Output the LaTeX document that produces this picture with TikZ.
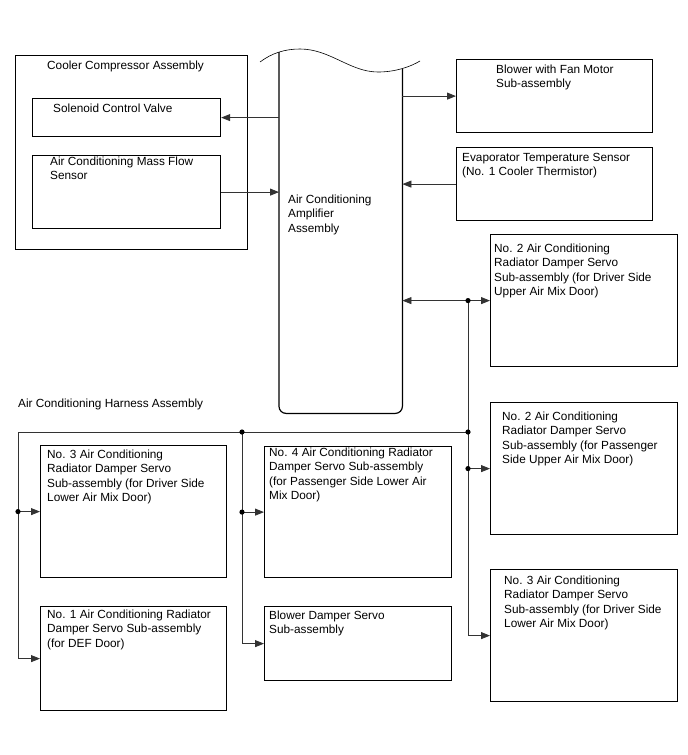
\documentclass[tikz,border=0pt]{standalone}
\usepackage{fontspec}
\setmainfont{Liberation Sans}
\usetikzlibrary{arrows.meta}

\begin{document}
\begin{tikzpicture}[x=1pt, y=-1pt,
    box/.style={draw, line width=1.2pt, anchor=north west, inner sep=0pt},
    txt/.style={anchor=north west, align=left, inner sep=0pt, font=\fontsize{11.8}{14.2}\selectfont},
    conn/.style={draw=black!80, line width=0.8pt},
    arr/.style={conn, -{Triangle[length=9pt,width=7pt]}},
    dotfill/.style={fill=black}
]
    \useasboundingbox (0,0) rectangle (688,755);

    % Cooler compressor assembly
    \node[box, minimum width=232pt, minimum height=194pt] (cooler) at (15,55) {};
    \node[txt] (coolertxt) at (47,61) {Cooler Compressor Assembly};
    \node[box, minimum width=188pt, minimum height=38pt] (solenoid) at (32,98) {};
    \node[txt] (solenoidtxt) at (53,104) {Solenoid Control Valve};
    \node[box, minimum width=188pt, minimum height=73pt] (massflow) at (32,155) {};
    \node[txt] (massflowtxt) at (50,157) {Air Conditioning Mass Flow\\Sensor};

    % Amplifier (cut-off top)
    \node[minimum width=123pt, minimum height=361pt, anchor=north west, inner sep=0pt] (amp) at (279,52) {};
    \draw[line width=1.2pt, rounded corners=7pt] (amp.north west) -- (amp.south west) -- (amp.south east) -- (amp.east |- 0,69);
    \draw[line width=0.6pt] (260,62) .. controls (272,53) and (285,49) .. (300,49)
        .. controls (330,49) and (350,72) .. (378,72)
        .. controls (395,72) and (410,67) .. (420,61);
    \node[txt] (amptxt) at (288,195) {Air Conditioning\\Amplifier\\Assembly};

    % Right column
    \node[box, minimum width=196pt, minimum height=73pt] (blower) at (456,59) {};
    \node[txt] (blowertxt) at (496,65) {Blower with Fan Motor\\Sub-assembly};
    \node[box, minimum width=196pt, minimum height=73pt] (evap) at (456,147) {};
    \node[txt] (evaptxt) at (462,153) {Evaporator Temperature Sensor\\(No. 1 Cooler Thermistor)};
    \node[box, minimum width=187pt, minimum height=132pt] (upperdrv) at (490,234) {};
    \node[txt] (upperdrvtxt) at (494,244) {No. 2 Air Conditioning\\Radiator Damper Servo\\Sub-assembly (for Driver Side\\Upper Air Mix Door)};
    \node[box, minimum width=187pt, minimum height=132pt] (upperpas) at (490,402) {};
    \node[txt] (upperpastxt) at (502,412) {No. 2 Air Conditioning\\Radiator Damper Servo\\Sub-assembly (for Passenger\\Side Upper Air Mix Door)};
    \node[box, minimum width=187pt, minimum height=132pt] (lowerdrvR) at (490,569) {};
    \node[txt] (lowerdrvRtxt) at (504,576) {No. 3 Air Conditioning\\Radiator Damper Servo\\Sub-assembly (for Driver Side\\Lower Air Mix Door)};

    % Harness side
    \node[txt] (harness) at (18,399) {Air Conditioning Harness Assembly};
    \node[box, minimum width=186pt, minimum height=132pt] (lowerdrvL) at (40,445) {};
    \node[txt] (lowerdrvLtxt) at (47,450) {No. 3 Air Conditioning\\Radiator Damper Servo\\Sub-assembly (for Driver Side\\Lower Air Mix Door)};
    \node[box, minimum width=187pt, minimum height=131pt] (lowerpas) at (264,446) {};
    \node[txt] (lowerpastxt) at (269,448) {No. 4 Air Conditioning Radiator\\Damper Servo Sub-assembly\\(for Passenger Side Lower Air\\Mix Door)};
    \node[box, minimum width=186pt, minimum height=104pt] (defdoor) at (40,606) {};
    \node[txt] (defdoortxt) at (47,610) {No. 1 Air Conditioning Radiator\\Damper Servo Sub-assembly\\(for DEF Door)};
    \node[box, minimum width=187pt, minimum height=74pt] (blowerdmp) at (264,606) {};
    \node[txt] (blowerdmptxt) at (269,611) {Blower Damper Servo\\Sub-assembly};

    % Amplifier connections
    \draw[arr] (solenoid.east -| amp.west) -- (solenoid.east);
    \draw[arr] (massflow.east) -- (massflow.east -| amp.west);
    \draw[arr] (blower.west -| amp.east) -- (blower.west);
    \draw[arr] (evap.west) -- (evap.west -| amp.east);
    \draw[conn, {Triangle[length=9pt,width=7pt]}-{Triangle[length=9pt,width=7pt]}] (upperdrv.west -| amp.east) -- (upperdrv.west);

    % Harness junctions
    \coordinate (jtop) at (468,0 |- upperdrv.west);
    \coordinate (jbusR) at (468,432);
    \coordinate (jbusM) at (242,432);
    \coordinate (jbusL) at (18,432);
    \coordinate (jpas) at (jtop |- upperpas.west);
    \coordinate (jmidL) at (jbusL |- lowerdrvL.west);
    \coordinate (jmidM) at (jbusM |- lowerpas.west);

    \draw[conn] (jtop) -- (jtop |- lowerdrvR.west);
    \draw[arr] (jtop |- lowerdrvR.west) -- (lowerdrvR.west);
    \draw[arr] (jpas) -- (upperpas.west);
    \draw[conn] (jbusR) -- (jbusL) -- (jbusL |- defdoor.west);
    \draw[arr] (jbusL |- defdoor.west) -- (defdoor.west);
    \draw[arr] (jmidL) -- (lowerdrvL.west);
    \draw[conn] (jbusM) -- (jbusM |- blowerdmp.west);
    \draw[arr] (jbusM |- blowerdmp.west) -- (blowerdmp.west);
    \draw[arr] (jmidM) -- (lowerpas.west);

    \foreach \j in {jtop, jbusR, jbusM, jpas, jmidL, jmidM}
        \fill[dotfill] (\j) circle[radius=2.6pt];

\end{tikzpicture}
\end{document}
